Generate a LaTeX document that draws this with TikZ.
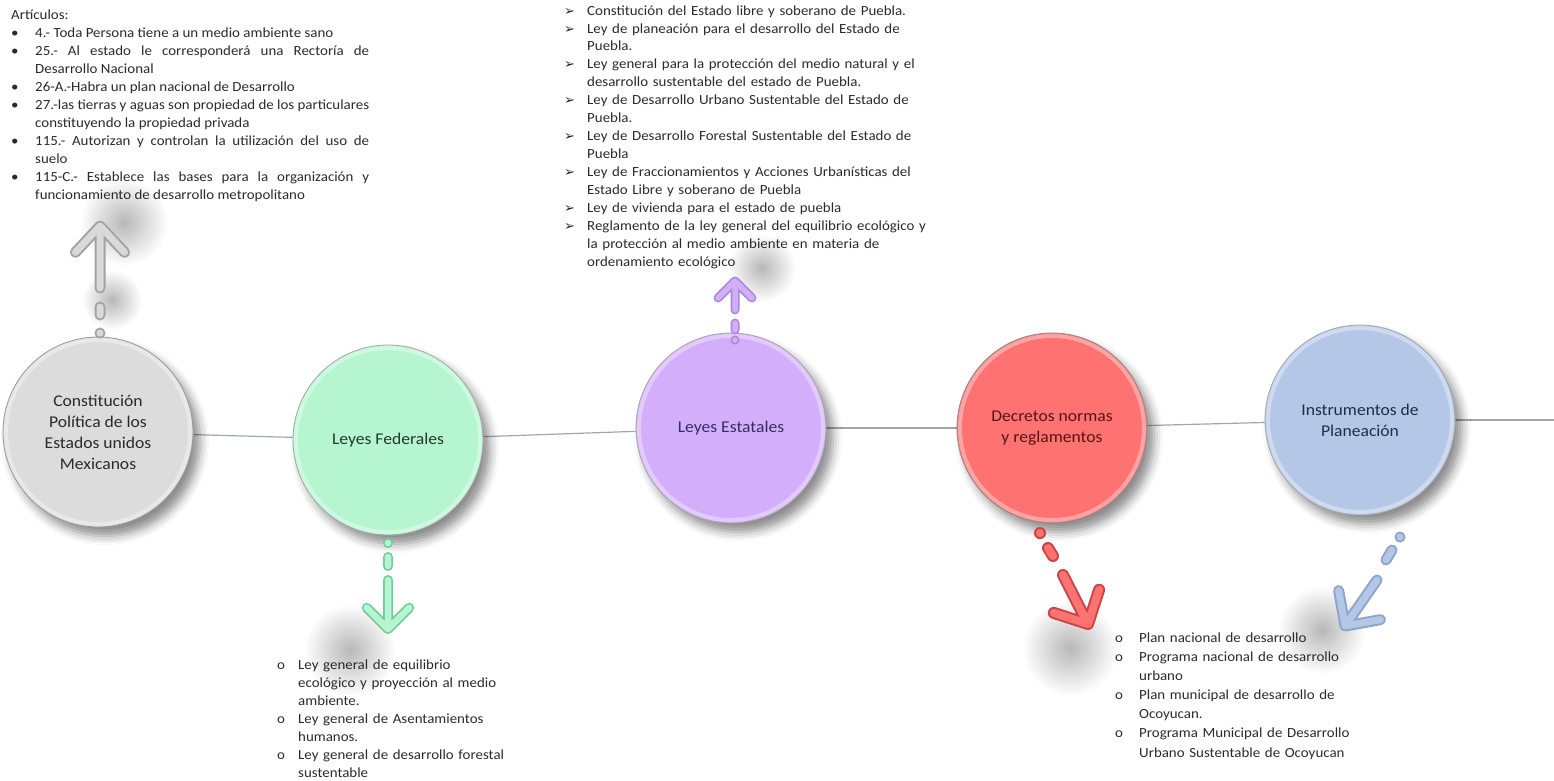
\documentclass[tikz,border=0pt]{standalone}
\usepackage{fontspec}
\setmainfont{Carlito}[FakeStretch=1.07]
\newfontfamily\symfont{DejaVu Sans}
\usepackage{enumitem}
\usetikzlibrary{calc,shadows.blur,backgrounds}

\definecolor{lineagris}{HTML}{9DA8B4}
\definecolor{txtgris}{HTML}{2A2A2A}
\definecolor{grisfill}{HTML}{DCDCDC}
\definecolor{grisosc}{HTML}{A3A3A3}
\definecolor{grisclr}{HTML}{D9D9D9}
\definecolor{verdefill}{HTML}{B5F6D1}
\definecolor{verdeosc}{HTML}{72CC9C}
\definecolor{verdetxt}{HTML}{1F3A2B}
\definecolor{moradofill}{HTML}{D3AFFB}
\definecolor{moradoosc}{HTML}{A98BD6}
\definecolor{moradotxt}{HTML}{3A2A62}
\definecolor{rojofill}{HTML}{FF7272}
\definecolor{rojoosc}{HTML}{C94646}
\definecolor{rojotxt}{HTML}{581414}
\definecolor{azulfill}{HTML}{B4C7E7}
\definecolor{azulosc}{HTML}{8EA5CB}
\definecolor{azultxt}{HTML}{1F2E45}

\newcommand\lista{\fontsize{14}{18}\selectfont}

\tikzset{
  etapa/.style={circle, minimum size=190bp, inner sep=0pt, align=center,
    font=\fontsize{16.5}{21}\selectfont, line width=0.8bp,
    blur shadow={shadow xshift=7bp, shadow yshift=-9bp, shadow blur radius=9bp, shadow opacity=45}},
  brillo/.style={draw=white, line width=4bp, opacity=.35},
  flechaout/.style={draw=#1, line cap=round, line join=round},
  flechain/.style={draw=#1, line cap=round, line join=round},
  sombra/.style={inner color=black!28, outer color=white},
  texto/.style={anchor=north west, inner sep=0pt, text=txtgris, font=\lista},
}

\begin{document}
\begin{tikzpicture}[x=1bp,y=-1bp]
\useasboundingbox (0,0) rectangle (1554,780);

% sombras de las flechas
\shade[sombra] (124,222) circle (44);
\shade[sombra] (112,300) circle (30);
\shade[sombra] (762,268) circle (34);
\shade[sombra] (350,650) circle (46);
\shade[sombra] (1070,648) circle (48);
\shade[sombra] (1322,630) circle (44);

% etapas
\node[etapa, fill=grisfill, draw=black!40, text=txtgris] (cpm) at (98,432) {Constitución\\Política de los\\Estados unidos\\Mexicanos};
\node[etapa, fill=verdefill, draw=black!35, text=verdetxt] (lfed) at (388,440) {Leyes Federales};
\node[etapa, fill=moradofill, draw=black!35, text=moradotxt] (lest) at (731,428) {Leyes Estatales};
\node[etapa, fill=rojofill, draw=black!45, text=rojotxt] (dec) at (1052,428) {Decretos normas\\y reglamentos};
\node[etapa, fill=azulfill, draw=black!35, text=azultxt] (ins) at (1360,420) {Instrumentos de\\Planeación};
\coordinate (fin) at (1554,420);

\foreach \n in {cpm,lfed,lest,dec,ins}
  \draw[brillo] (\n) circle (92bp);

\begin{scope}[on background layer]
\draw[lineagris, line width=1.2bp] (cpm) -- (lfed);
\draw[lineagris, line width=1.2bp] (lfed) -- (lest);
\draw[lineagris, line width=1.2bp] (lest) -- (dec);
\draw[lineagris, line width=1.2bp] (dec) -- (ins);
\draw[lineagris, line width=1.2bp] (ins) -- (fin);
\end{scope}

% flecha gris
\coordinate (g0) at (100,333);
\coordinate (g1) at (100,315);
\coordinate (g2) at (100,307);
\coordinate (g3) at (100,288);
\coordinate (g4) at (100,226);
\foreach \capa/\col/\w in {flechaout/grisosc/11bp,flechain/grisclr/7bp}
  \draw[\capa=\col, line width=\w] (g0) -- ++(0,0.1) (g1) -- (g2) (g3) -- (g4)
    ($(g4)!36bp!43:(g3)$) -- (g4) -- ($(g4)!36bp!-43:(g3)$);

% flecha morada
\coordinate (m0) at (735,340);
\coordinate (m1) at (735,330);
\coordinate (m2) at (735,323);
\coordinate (m3) at (735,310);
\coordinate (m4) at (735,281);
\foreach \capa/\col/\w in {flechaout/moradoosc/9bp,flechain/moradofill/5.5bp}
  \draw[\capa=\col, line width=\w] (m0) -- ++(0,0.1) (m1) -- (m2) (m3) -- (m4)
    ($(m4)!24bp!45:(m3)$) -- (m4) -- ($(m4)!24bp!-45:(m3)$);

% flecha verde
\coordinate (v0) at (388,543);
\coordinate (v1) at (388,557);
\coordinate (v2) at (388,566);
\coordinate (v3) at (388,580);
\coordinate (v4) at (388,629);
\foreach \capa/\col/\w in {flechaout/verdeosc/10bp,flechain/verdefill/6.5bp}
  \draw[\capa=\col, line width=\w] (v0) -- ++(0,0.1) (v1) -- (v2) (v3) -- (v4)
    ($(v4)!30bp!45:(v3)$) -- (v4) -- ($(v4)!30bp!-45:(v3)$);

% flecha roja
\coordinate (r0) at (1040,533);
\coordinate (r1) at (1048,548);
\coordinate (r2) at (1053,556);
\coordinate (r3) at (1063,575);
\coordinate (r4) at (1088,624);
\foreach \capa/\col/\w in {flechaout/rojoosc/12bp,flechain/rojofill/8bp}
  \draw[\capa=\col, line width=\w] (r0) -- ++(0,0.1) (r1) -- (r2) (r3) -- (r4)
    ($(r4)!36bp!45:(r3)$) -- (r4) -- ($(r4)!36bp!-45:(r3)$);

% flecha azul
\coordinate (a0) at (1400,537);
\coordinate (a1) at (1392,550);
\coordinate (a2) at (1386,560);
\coordinate (a3) at (1377,580);
\coordinate (a4) at (1345,626);
\foreach \capa/\col/\w in {flechaout/azulosc/11bp,flechain/azulfill/7bp}
  \draw[\capa=\col, line width=\w] (a0) -- ++(0,0.1) (a1) -- (a2) (a3) -- (a4)
    ($(a4)!36bp!45:(a3)$) -- (a4) -- ($(a4)!36bp!-45:(a3)$);

% textos
\node[texto, text width=358bp, align=justify] (art) at (11,10) {Artículos:
\begin{itemize}[nosep, leftmargin=24bp, labelwidth=24bp, labelsep=0pt, align=left, label=\textbullet]
\item 4.- Toda Persona tiene a un medio ambiente sano
\item 25.- Al estado le corresponderá una Rectoría de\linebreak Desarrollo Nacional
\item 26-A.-Habra un plan nacional de Desarrollo
\item 27.-las tierras y aguas son propiedad de los particulares\linebreak constituyendo la propiedad privada
\item 115.- Autorizan y controlan la utilización del uso de\linebreak suelo
\item 115-C.- Establece las bases para la organización y\linebreak funcionamiento de desarrollo metropolitano
\end{itemize}};

\node[texto, text width=380bp, align=left] (estatal) at (564,-3) {%
\begin{itemize}[nosep, leftmargin=23bp, labelwidth=23bp, labelsep=0pt, align=left, label={\symfont\fontsize{13}{13}\selectfont ➢}]
\item Constitución del Estado libre y soberano de Puebla.
\item Ley de planeación para el desarrollo del Estado de\newline Puebla.
\item Ley general para la protección del medio natural y el\newline desarrollo sustentable del estado de Puebla.
\item Ley de Desarrollo Urbano Sustentable del Estado de\newline Puebla.
\item Ley de Desarrollo Forestal Sustentable del Estado de\newline Puebla
\item Ley de Fraccionamientos y Acciones Urbanísticas del\newline Estado Libre y soberano de Puebla
\item Ley de vivienda para el estado de puebla
\item Reglamento de la ley general del equilibrio ecológico y\newline la protección al medio ambiente en materia de\newline ordenamiento ecológico
\end{itemize}};

\node[texto, text width=260bp, align=left, font=\fontsize{14}{18.1}\selectfont] (federal) at (277,651) {%
\begin{itemize}[nosep, leftmargin=21bp, labelwidth=21bp, labelsep=0pt, align=left, label=o]
\item Ley general de equilibrio\newline ecológico y proyección al medio\newline ambiente.
\item Ley general de Asentamientos\newline humanos.
\item Ley general de desarrollo forestal\newline sustentable
\end{itemize}};

\node[texto, text width=270bp, align=left, font=\fontsize{14}{19.2}\selectfont] (planea) at (1115,623) {%
\begin{itemize}[nosep, leftmargin=24bp, labelwidth=24bp, labelsep=0pt, align=left, label=o]
\item Plan nacional de desarrollo
\item Programa nacional de desarrollo\newline urbano
\item Plan municipal de desarrollo de\newline Ocoyucan.
\item Programa Municipal de Desarrollo\newline Urbano Sustentable de Ocoyucan
\end{itemize}};

\end{tikzpicture}
\end{document}
